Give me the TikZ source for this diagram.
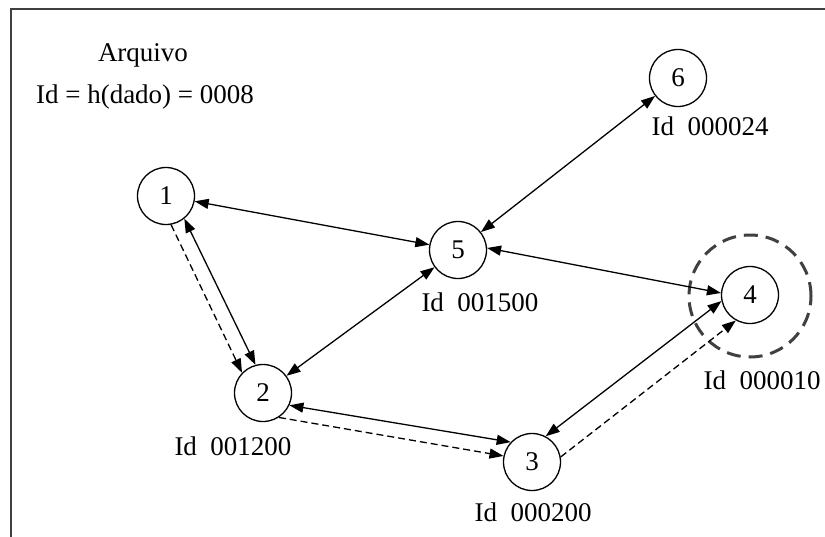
\documentclass[tikz,border=0pt]{standalone}
\usepackage{fontspec}
\setmainfont{Liberation Serif}
\usetikzlibrary{arrows.meta}
\begin{document}
\begin{tikzpicture}[x=1pt,y=-1pt,
  peer/.style={circle,draw,line width=1.3pt,minimum size=57pt,inner sep=0pt,font=\fontsize{27}{30}\selectfont},
  lbl/.style={inner sep=0pt,font=\fontsize{27}{30}\selectfont},
  tip/.tip={Triangle[length=14pt,width=10pt]},
  link/.style={line width=1.3pt,tip-tip},
  dlink/.style={line width=1.3pt,dash pattern=on 7pt off 4pt,-tip},
  ring/.style={circle,draw=black!75,line width=3pt,dash pattern=on 14pt off 8pt,minimum size=122pt,inner sep=0pt}]
\useasboundingbox (0,0) rectangle (825,536);
\clip (0,0) rectangle (825,536);
\fill[white] (0,0) rectangle (825,536);
\draw[line width=2pt,black!75] (11,9) rectangle (845,560);

\node[lbl] (arq) at (143,55) {Arquivo};
\node[lbl] (hash) at (145,97) {Id = h(dado) = 0008};

\node[ring] (r4) at (750,296) {};
\node[peer] (n1) at (166,196) {1};
\node[peer] (n2) at (263,393) {2};
\node[peer] (n3) at (532,462) {3};
\node[peer] (n4) at (750,295) {4};
\node[peer] (n5) at (458,250) {5};
\node[peer] (n6) at (678,78) {6};

\node[lbl] (l6) at (710,126) {Id~~000024};
\node[lbl] (l5) at (480,302) {Id~~001500};
\node[lbl] (l4) at (762,380) {Id~~000010};
\node[lbl] (l2) at (233,446) {Id~~001200};
\node[lbl] (l3) at (533,512) {Id~~000200};

\draw[link] (n1) -- (n5);
\draw[link] (n5) -- (n6);
\draw[link] (n5.4) -- (n4.176);
\draw[link] (n5) -- (n2);
\draw[link] (n1.-51) -- (n2.105);
\draw[dlink] (n1.-80) -- (n2.136);
\draw[link] (n2.-25) -- (n3.137);
\draw[dlink] (n2.-57) -- (n3.168);
\draw[link] (n3.62) -- (n4.-168);
\draw[dlink] (n3.10) -- (n4.-119);
\end{tikzpicture}
\end{document}
